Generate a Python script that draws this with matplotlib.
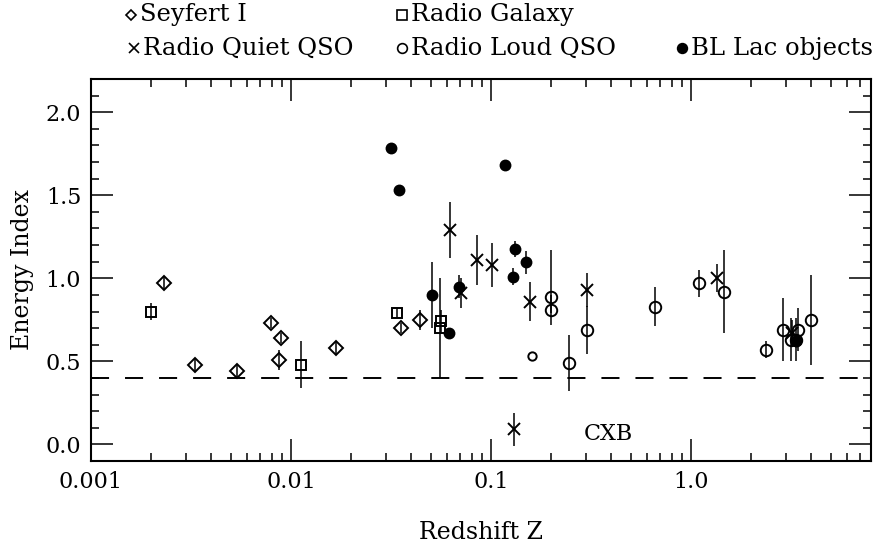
import numpy as np
import matplotlib
matplotlib.use("Agg")
import matplotlib.pyplot as plt
from matplotlib.ticker import MultipleLocator, LogLocator, NullFormatter

plt.rcParams['font.family'] = ['DejaVu Serif']
plt.rcParams['lines.scale_dashes'] = False

# ------------------------------
# Data
# ------------------------------
# Seyfert I (open diamonds)
sey_z = [0.00232, 0.00332, 0.00537, 0.0079, 0.0089, 0.0087, 0.0168, 0.0355, 0.0443]
sey_e = [0.97, 0.48, 0.44, 0.73, 0.64, 0.51, 0.58, 0.70, 0.75]
sey_err = [0.035, 0.04, 0.04, 0.03, 0.03, 0.06, 0.035, 0.03, 0.06]

# Radio galaxies (open squares)
rg_z = [0.0020, 0.0112, 0.0338, 0.0555, 0.0565]
rg_e = [0.80, 0.48, 0.79, 0.70, 0.74]
rg_err = [0.05, 0.14, 0.03, 0.30, 0.07]

# Radio quiet QSO (crosses)
rq_z = [0.0624, 0.0711, 0.0855, 0.1016, 0.1303, 0.157, 0.301, 1.344, 3.2]
rq_e = [1.29, 0.91, 1.11, 1.08, 0.09, 0.86, 0.93, 1.00, 0.67]
rq_err = [0.17, 0.09, 0.15, 0.135, 0.10, 0.115, 0.10, 0.085, 0.08]

# Radio loud QSO (open circles)
rl_z = [0.2003, 0.2003, 0.2445, 0.301, 0.663, 1.096, 1.468, 2.381, 2.884, 3.16, 3.35, 3.44, 3.97]
rl_e = [0.89, 0.81, 0.49, 0.69, 0.83, 0.97, 0.92, 0.57, 0.69, 0.63, 0.63, 0.69, 0.75]
rl_err_lo = [0.10, 0.09, 0.17, 0.145, 0.12, 0.08, 0.25, 0.05, 0.19, 0.13, 0.13, 0.13, 0.27]
rl_err_hi = [0.28, 0.09, 0.17, 0.145, 0.12, 0.08, 0.25, 0.05, 0.19, 0.13, 0.13, 0.13, 0.27]
rl_small_z = [0.16]
rl_small_e = [0.53]

# BL Lac objects (filled circles)
bl_z = [0.0315, 0.0345, 0.0505, 0.0616, 0.0695, 0.118, 0.129, 0.1314, 0.1496, 3.35]
bl_e = [1.785, 1.534, 0.90, 0.67, 0.95, 1.68, 1.01, 1.177, 1.096, 0.62]
bl_err = [0.0, 0.0, 0.2, 0.02, 0.07, 0.0, 0.05, 0.05, 0.07, 0.03]

cxb_level = 0.4

x_ticks = [0.001, 0.01, 0.1, 1.0]
x_tick_labels = ["0.001", "0.01", "0.1", "1.0"]
y_ticks = [0.0, 0.5, 1.0, 1.5, 2.0]
y_tick_labels = ["0.0", "0.5", "1.0", "1.5", "2.0"]

legend_labels = ["Seyfert I", "Radio Galaxy", "Radio Quiet QSO", "Radio Loud QSO", "BL Lac objects"]

# ------------------------------
# Figure
# ------------------------------
fig = plt.figure(figsize=(8.76, 5.46), dpi=100)
ax = fig.add_axes([91 / 876, 1 - 461 / 546, 780 / 876, 382 / 546])

ms = 7.5
mew = 1.4
elw = 1.1
common = dict(linestyle='none', color='black', elinewidth=elw, capsize=0, markeredgewidth=mew)

ax.errorbar(sey_z, sey_e, yerr=sey_err, marker='D', markersize=6.8,
            markerfacecolor='none', **common)
ax.errorbar(rg_z, rg_e, yerr=rg_err, marker='s', markersize=ms,
            markerfacecolor='none', **common)
ax.errorbar(rl_z, rl_e, yerr=[rl_err_lo, rl_err_hi], marker='o', markersize=ms * 1.1,
            markerfacecolor='none', **common)
ax.errorbar(rl_small_z, rl_small_e, marker='o', markersize=ms * 0.8,
            markerfacecolor='none', **common)
ax.errorbar(rq_z, rq_e, yerr=rq_err, marker='x', markersize=ms * 1.2, **common)
ax.errorbar(bl_z, bl_e, yerr=bl_err, marker='o', markersize=ms * 0.95,
            markerfacecolor='black', **common)

# CXB line
ax.axhline(cxb_level, color='black', lw=1.4, dashes=(13, 11.5))
ax.text(0.29, 0.06, "CXB", fontsize=16, ha='left', va='center')

ax.set_xscale('log')
ax.set_xlim(0.001, 10 ** 0.9)
ax.set_ylim(-0.1, 2.2)

ax.set_xticks(x_ticks)
ax.set_xticklabels(x_tick_labels)
ax.xaxis.set_minor_locator(LogLocator(base=10, subs=np.arange(2, 10)))
ax.xaxis.set_minor_formatter(NullFormatter())
ax.set_yticks(y_ticks)
ax.set_yticklabels(y_tick_labels)
ax.yaxis.set_minor_locator(MultipleLocator(0.1))

ax.tick_params(which='both', direction='in', top=True, right=True, labelsize=16, width=1.1)
ax.tick_params(which='major', length=16, pad=7)
ax.tick_params(which='minor', length=6)
for s in ax.spines.values():
    s.set_linewidth(1.5)

ax.set_xlabel("Redshift Z", fontsize=17, va='center')
ax.xaxis.set_label_coords(0.5, -0.186)
ax.set_ylabel("Energy Index", fontsize=17, va='center')
ax.yaxis.set_label_coords(-0.088, 0.5)

# ------------------------------
# Legend (drawn above the frame)
# ------------------------------
leg = fig.add_axes([0, 0, 1, 1], facecolor='none')
leg.set_xlim(0, 876)
leg.set_ylim(546, 0)
leg.axis('off')

leg_items = [
    ('D', 'none', 131, 15, legend_labels[0], 5.5),
    ('s', 'none', 402, 15, legend_labels[1], 6.5),
    ('x', 'black', 134, 48, legend_labels[2], 7),
    ('o', 'none', 402, 48, legend_labels[3], 7),
    ('o', 'black', 682, 48, legend_labels[4], 7),
]
for m, fc, x, y, lab, size in leg_items:
    leg.plot([x], [y], marker=m, markersize=size, markerfacecolor=fc,
             markeredgecolor='black', markeredgewidth=1.2, color='black', linestyle='none')
    leg.text(x + 9, y, lab, fontsize=17.5, ha='left', va='center')

fig.savefig("out.png", dpi=100)
